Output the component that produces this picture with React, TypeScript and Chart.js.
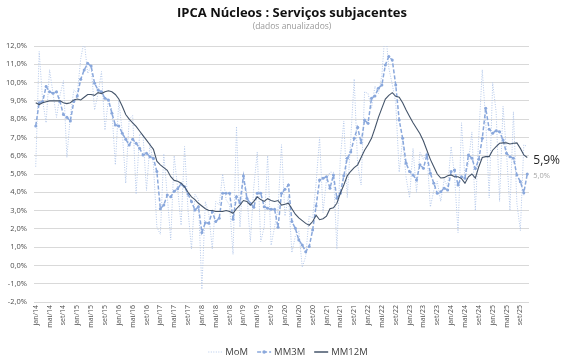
import React, { useEffect, useRef } from 'react';
import { Chart, registerables } from 'chart.js';

Chart.register(...registerables);

const TITLE = 'IPCA Núcleos : Serviços subjacentes';
const SUBTITLE = '(dados anualizados)';

const MONTHS = ['jan', 'fev', 'mar', 'abr', 'mai', 'jun', 'jul', 'ago', 'set', 'out', 'nov', 'dez'];
const YEARS = ['14', '15', '16', '17', '18', '19', '20', '21', '22', '23', '24', '25'];
const N_POINTS = 143; // jan/14 .. nov/25
const CATEGORIES = YEARS.flatMap((y) => MONTHS.map((m) => `${m}/${y}`)).slice(0, N_POINTS);

const SERIES_NAMES = ['MoM', 'MM3M', 'MM12M'];

const MOM = [
  5.4, 11.7, 9.0, 7.8, 10.7, 9.4, 8.1, 9.3, 10.1, 5.9, 8.2, 9.6,
  9.4, 11.3, 12.3, 10.5, 10.9, 8.5, 9.4, 10.6, 7.4, 9.1, 8.5, 5.5,
  9.0, 7.3, 4.5, 8.0, 8.2, 3.9, 7.2, 7.1, 4.1, 6.7, 5.5, 2.1,
  1.7, 6.1, 3.8, 1.4, 6.0, 4.2, 2.2, 6.5, 3.0, 0.9, 3.9, 3.6,
  -1.3, 3.5, 2.8, 0.9, 3.5, 3.3, 5.0, 3.6, 3.3, 0.6, 7.6, 2.1,
  5.0, 3.9, 1.3, 4.3, 6.2, 1.3, 2.1, 6.0, 1.1, 2.1, 3.1, 6.6,
  2.7, 3.8, 0.7, 1.6, 1.9, -0.1, 0.5, 2.7, 2.6, 4.5, 7.0, 2.9,
  4.7, 5.1, 5.1, 0.9, 5.9, 7.9, 3.7, 6.9, 10.2, 5.5, 4.4, 9.5,
  9.4, 8.6, 9.8, 9.4, 10.4, 13.0, 10.8, 9.9, 8.9, 5.1, 6.9, 4.8,
  3.7, 6.4, 4.0, 6.2, 5.8, 6.2, 3.2, 4.1, 4.6, 3.5, 4.7, 4.3,
  6.5, 4.9, 1.8, 7.8, 4.7, 5.6, 7.3, 3.0, 7.1, 10.7, 7.9, 3.7,
  10.0, 8.4, 3.5, 8.7, 6.2, 3.0, 8.4, 3.4, 1.9, 6.6, 6.5,
];

const MM3M = [
  7.63, 8.9, 8.96, 9.78, 9.5, 9.41, 9.5, 8.96, 8.25, 8.1, 7.9, 8.96,
  9.27, 10.18, 10.69, 11.05, 10.9, 9.96, 9.6, 9.5, 9.14, 9.05, 8.32, 7.68,
  7.63, 7.23, 6.9, 6.59, 6.9, 6.68, 6.41, 6.04, 6.13, 5.95, 5.86, 5.13,
  3.1, 3.3, 3.85, 3.75, 4.05, 4.2, 4.45, 4.3, 3.9, 3.49, 3.03, 3.21,
  1.8, 2.34, 2.31, 2.94, 2.4, 2.58, 3.95, 3.95, 3.95, 2.52, 3.76, 3.43,
  4.89, 3.67, 3.4, 3.18, 3.95, 3.95, 3.21, 3.13, 3.07, 3.07, 2.09, 3.95,
  4.16, 4.4, 2.4, 2.03, 1.39, 1.12, 0.75, 1.03, 1.94, 3.25, 4.67, 4.77,
  4.85, 4.22, 4.95, 3.67, 3.95, 4.9, 5.86, 6.2, 6.95, 7.55, 6.71, 7.95,
  7.77, 9.14, 9.27, 9.69, 9.87, 10.96, 11.42, 11.23, 9.87, 7.95, 6.95, 5.59,
  5.13, 4.95, 4.67, 5.5, 5.31, 6.04, 5.04, 4.49, 3.95, 4.03, 4.22, 4.13,
  5.13, 5.22, 4.4, 4.85, 4.77, 6.04, 5.86, 5.3, 5.8, 6.95, 8.59, 7.45,
  7.23, 7.37, 7.31, 6.86, 6.13, 5.95, 5.86, 4.95, 4.58, 3.98, 5.0,
];

const MM12M = [
  8.9, 8.8, 8.9, 8.95, 9.0, 9.0, 9.0, 9.0, 8.9, 8.85, 8.9, 9.05,
  9.1, 9.05, 9.2, 9.35, 9.35, 9.3, 9.45, 9.4, 9.5, 9.55, 9.5, 9.35,
  9.1, 8.7, 8.25, 8.0, 7.8, 7.6, 7.35, 7.1, 6.85, 6.6, 6.35, 5.7,
  5.5, 5.35, 5.2, 4.85, 4.65, 4.6, 4.5, 4.3, 4.0, 3.75, 3.6, 3.4,
  3.25, 3.1, 3.0, 3.0, 2.95, 2.95, 2.95, 3.0, 2.95, 2.85, 3.1, 3.3,
  3.55, 3.5, 3.3, 3.5, 3.75, 3.6, 3.5, 3.65, 3.55, 3.5, 3.55, 3.3,
  3.35, 3.4, 3.1, 2.8, 2.6, 2.45, 2.3, 2.2, 2.4, 2.75, 2.5, 2.55,
  2.7, 3.1, 3.15, 3.4, 3.95, 4.4, 4.9, 5.15, 5.35, 5.5, 5.9, 6.3,
  6.6, 6.95, 7.5, 8.1, 8.6, 9.1, 9.3, 9.45, 9.25, 9.2, 8.9, 8.5,
  8.15, 7.8, 7.5, 7.2, 6.8, 6.3, 5.8, 5.4, 5.0, 4.78, 4.8, 4.9,
  4.95, 4.85, 4.85, 4.75, 4.5, 4.85, 5.0, 4.78, 5.4, 5.9, 5.95, 5.95,
  6.3, 6.5, 6.68, 6.7, 6.7, 6.64, 6.68, 6.7, 6.4, 6.04, 5.9,
];

const Y_MIN = -2;
const Y_MAX = 12;

const COLORS = {
  mom: '#B4C8EA',
  mm3m: '#8AA8DC',
  mm12m: '#44546A',
  grid: '#D9D9D9',
  tick: '#4d4d4d',
  title: '#111111',
  subtitle: '#9a9a9a',
};

const FONT = '"Open Sans", "Noto Sans", sans-serif';
const fmt = (v: number) => v.toFixed(1).replace('.', ',') + '%';

const decorPlugin = {
  id: 'decor',
  afterDraw(chart: any) {
    const ctx = chart.ctx as CanvasRenderingContext2D;
    const W = chart.width;
    ctx.save();
    // title + subtitle
    ctx.textAlign = 'center';
    ctx.textBaseline = 'middle';
    ctx.fillStyle = COLORS.title;
    ctx.font = `bold 13px ${FONT}`;
    ctx.fillText(TITLE, W / 2, 13);
    ctx.fillStyle = COLORS.subtitle;
    ctx.font = `8.5px ${FONT}`;
    ctx.fillText(SUBTITLE, W / 2, 27);

    // legend
    const styles = [
      { color: COLORS.mom, dash: [1, 1.5], width: 1, marker: false },
      { color: COLORS.mm3m, dash: [4, 2], width: 1.5, marker: true },
      { color: COLORS.mm12m, dash: [], width: 1.5, marker: false },
    ];
    ctx.font = `9.5px ${FONT}`;
    const sample = 14;
    const gapIn = 3;
    const gapOut = 9;
    const widths = SERIES_NAMES.map((n) => ctx.measureText(n).width);
    const total = widths.reduce((a, w) => a + sample + gapIn + w, 0) + gapOut * (SERIES_NAMES.length - 1);
    let x = 288 - total / 2;
    const ly = 352;
    SERIES_NAMES.forEach((name, i) => {
      const s = styles[i];
      ctx.beginPath();
      ctx.setLineDash(s.dash);
      ctx.lineWidth = s.width;
      ctx.strokeStyle = s.color;
      ctx.moveTo(x, ly);
      ctx.lineTo(x + sample, ly);
      ctx.stroke();
      ctx.setLineDash([]);
      if (s.marker) {
        ctx.beginPath();
        ctx.fillStyle = s.color;
        ctx.arc(x + sample / 2, ly, 1.8, 0, Math.PI * 2);
        ctx.fill();
      }
      ctx.fillStyle = '#404040';
      ctx.textAlign = 'left';
      ctx.textBaseline = 'middle';
      ctx.fillText(name, x + sample + gapIn, ly);
      x += sample + gapIn + widths[i] + gapOut;
    });

    // end labels
    const m12 = chart.getDatasetMeta(2).data;
    const m3 = chart.getDatasetMeta(1).data;
    const p12 = m12[m12.length - 1];
    const p3 = m3[m3.length - 1];
    ctx.textAlign = 'left';
    ctx.textBaseline = 'middle';
    ctx.fillStyle = '#262626';
    ctx.font = `12px ${FONT}`;
    ctx.fillText(fmt(MM12M[MM12M.length - 1]), p12.x + 6, p12.y + 3);
    ctx.fillStyle = '#a6a6a6';
    ctx.font = `7.5px ${FONT}`;
    ctx.fillText(fmt(MM3M[MM3M.length - 1]), p3.x + 6, p3.y + 2);
    ctx.restore();
  },
};

export default function App() {
  const ref = useRef<HTMLCanvasElement | null>(null);

  useEffect(() => {
    if (!ref.current) return;
    const chart = new Chart(ref.current, {
      type: 'line',
      data: {
        labels: CATEGORIES,
        datasets: [
          {
            label: SERIES_NAMES[0],
            data: MOM,
            borderColor: COLORS.mom,
            borderWidth: 1,
            borderDash: [1, 1.5],
            pointRadius: 0,
            tension: 0,
            order: 3,
          },
          {
            label: SERIES_NAMES[1],
            data: MM3M,
            borderColor: COLORS.mm3m,
            backgroundColor: COLORS.mm3m,
            borderWidth: 1.5,
            borderDash: [4, 2],
            pointRadius: 1.5,
            pointBorderWidth: 0,
            pointBackgroundColor: COLORS.mm3m,
            tension: 0,
            order: 2,
          },
          {
            label: SERIES_NAMES[2],
            data: MM12M,
            borderColor: COLORS.mm12m,
            borderWidth: 1.1,
            pointRadius: 0,
            tension: 0,
            order: 1,
          },
        ],
      },
      options: {
        animation: false,
        responsive: false,
        maintainAspectRatio: false,
        layout: { padding: { top: 46, right: 55, bottom: 31, left: 0 } },
        plugins: {
          legend: { display: false },
          title: { display: false },
          tooltip: { enabled: false },
        },
        scales: {
          x: {
            offset: true,
            grid: { display: false, drawTicks: false },
            border: { display: false },
            ticks: {
              autoSkip: false,
              maxRotation: 90,
              minRotation: 90,
              padding: 3,
              color: COLORS.tick,
              font: { family: FONT, size: 7 },
              callback: (_v: any, i: number) => (i % 4 === 0 ? CATEGORIES[i] : ''),
            },
            afterFit: (s: any) => {
              s.height = 30;
            },
          },
          y: {
            min: Y_MIN,
            max: Y_MAX,
            grid: { color: COLORS.grid, lineWidth: 1, drawTicks: false },
            border: { display: false },
            ticks: {
              stepSize: 1,
              padding: 7,
              color: COLORS.tick,
              font: { family: FONT, size: 7.5 },
              callback: (v: any) => fmt(Number(v)),
            },
            afterFit: (s: any) => {
              s.width = 34;
            },
          },
        },
      },
      plugins: [decorPlugin],
    });
    return () => chart.destroy();
  }, []);

  return (
    <div style={{ position: 'fixed', left: 0, top: 0, width: 584, height: 363, background: '#fff' }}>
      <canvas ref={ref} width={584} height={363} style={{ width: 584, height: 363, display: 'block' }} />
    </div>
  );
}
